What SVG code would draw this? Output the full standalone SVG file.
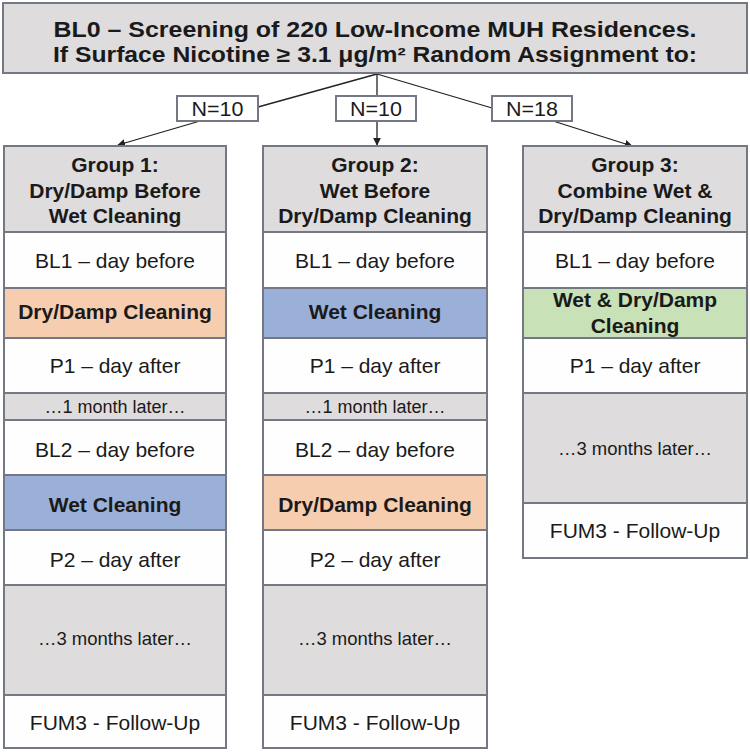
<svg xmlns="http://www.w3.org/2000/svg" width="750" height="752" viewBox="0 0 750 752">
<style>
.c{stroke:#737884;stroke-width:2}
.g{fill:#dedcdd}
.w{fill:#fefefe}
.o{fill:#f7cdb0}
.b{fill:#9bb0d9}
.gr{fill:#c9e1b6}
text{font-family:"Liberation Sans",Arial,sans-serif;fill:#1a1a1a;text-anchor:middle}
.h{font-weight:bold;font-size:21px}
.t{font-size:21px}
.s{font-size:18px}
.m{font-size:18.5px}
.ti{font-weight:bold;font-size:21.5px}
.n{font-size:20px}
.ln{stroke:#222;stroke-width:1.3;fill:none}
</style>
<defs>
<marker id="ah" viewBox="0 0 10 10" refX="9" refY="5" markerWidth="8" markerHeight="8" markerUnits="userSpaceOnUse" orient="auto">
<path d="M0,0 L10,5 L0,10 z" fill="#222"/>
</marker>
</defs>
<rect width="750" height="752" fill="#ffffff"/>
<g id="connectors">
<line class="ln" x1="377" y1="74" x2="258" y2="107"/>
<line class="ln" x1="377" y1="74" x2="377" y2="96"/>
<line class="ln" x1="377" y1="74" x2="492" y2="108"/>
<line class="ln" x1="200" y1="121" x2="118" y2="145" marker-end="url(#ah)"/>
<line class="ln" x1="377" y1="121" x2="377" y2="145" marker-end="url(#ah)"/>
<line class="ln" x1="553" y1="121" x2="632" y2="146" marker-end="url(#ah)"/>
</g>
<g id="title">
<rect class="c g" x="3" y="3" width="744" height="70"/>
<text class="ti" x="375" y="37" textLength="643" lengthAdjust="spacingAndGlyphs">BL0 – Screening of 220 Low-Income MUH Residences.</text>
<text class="ti" x="375" y="62" textLength="644" lengthAdjust="spacingAndGlyphs">If Surface Nicotine ≥ 3.1 μg/m² Random Assignment to:</text>
</g>
<g id="n1">
<rect x="177" y="96" width="81" height="25" fill="#fff" stroke="#737884" stroke-width="2"/>
<text class="n" x="217.5" y="116" textLength="52" lengthAdjust="spacingAndGlyphs">N=10</text>
</g>
<g id="n2">
<rect x="336" y="96" width="80" height="25" fill="#fff" stroke="#737884" stroke-width="2"/>
<text class="n" x="376" y="116" textLength="52" lengthAdjust="spacingAndGlyphs">N=10</text>
</g>
<g id="n3">
<rect x="492" y="96" width="80" height="25" fill="#fff" stroke="#737884" stroke-width="2"/>
<text class="n" x="532" y="116" textLength="52" lengthAdjust="spacingAndGlyphs">N=18</text>
</g>
<g id="group1">
<rect class="c g" x="4" y="146" width="222" height="86"/>
<text class="h" x="115" y="172">Group 1:</text>
<text class="h" x="115" y="198">Dry/Damp Before</text>
<text class="h" x="115" y="223">Wet Cleaning</text>
<rect class="c w" x="4" y="232" width="222" height="56"/>
<text class="t" x="115" y="268">BL1 – day before</text>
<rect class="c o" x="4" y="288" width="222" height="50"/>
<text class="h" x="115" y="319">Dry/Damp Cleaning</text>
<rect class="c w" x="4" y="338" width="222" height="55"/>
<text class="t" x="115" y="373">P1 – day after</text>
<rect class="c g" x="4" y="393" width="222" height="27"/>
<text class="s" x="115" y="413">…1 month later…</text>
<rect class="c w" x="4" y="420" width="222" height="55"/>
<text class="t" x="115" y="457">BL2 – day before</text>
<rect class="c b" x="4" y="475" width="222" height="55"/>
<text class="h" x="115" y="512">Wet Cleaning</text>
<rect class="c w" x="4" y="530" width="222" height="55"/>
<text class="t" x="115" y="567">P2 – day after</text>
<rect class="c g" x="4" y="585" width="222" height="110"/>
<text class="m" x="115" y="645">…3 months later…</text>
<rect class="c w" x="4" y="695" width="222" height="53"/>
<text class="t" x="115" y="730">FUM3 - Follow-Up</text>
</g>
<g id="group2">
<rect class="c g" x="263" y="146" width="224" height="86"/>
<text class="h" x="375" y="172">Group 2:</text>
<text class="h" x="375" y="198">Wet Before</text>
<text class="h" x="375" y="223">Dry/Damp Cleaning</text>
<rect class="c w" x="263" y="232" width="224" height="56"/>
<text class="t" x="375" y="268">BL1 – day before</text>
<rect class="c b" x="263" y="288" width="224" height="50"/>
<text class="h" x="375" y="319">Wet Cleaning</text>
<rect class="c w" x="263" y="338" width="224" height="55"/>
<text class="t" x="375" y="373">P1 – day after</text>
<rect class="c g" x="263" y="393" width="224" height="27"/>
<text class="s" x="375" y="413">…1 month later…</text>
<rect class="c w" x="263" y="420" width="224" height="55"/>
<text class="t" x="375" y="457">BL2 – day before</text>
<rect class="c o" x="263" y="475" width="224" height="55"/>
<text class="h" x="375" y="512">Dry/Damp Cleaning</text>
<rect class="c w" x="263" y="530" width="224" height="55"/>
<text class="t" x="375" y="567">P2 – day after</text>
<rect class="c g" x="263" y="585" width="224" height="110"/>
<text class="m" x="375" y="645">…3 months later…</text>
<rect class="c w" x="263" y="695" width="224" height="53"/>
<text class="t" x="375" y="730">FUM3 - Follow-Up</text>
</g>
<g id="group3">
<rect class="c g" x="523" y="146" width="224" height="86"/>
<text class="h" x="635" y="172">Group 3:</text>
<text class="h" x="635" y="198">Combine Wet &amp;</text>
<text class="h" x="635" y="223">Dry/Damp Cleaning</text>
<rect class="c w" x="523" y="232" width="224" height="56"/>
<text class="t" x="635" y="268">BL1 – day before</text>
<rect class="c gr" x="523" y="288" width="224" height="50"/>
<text class="h" x="635" y="307">Wet &amp; Dry/Damp</text>
<text class="h" x="635" y="333">Cleaning</text>
<rect class="c w" x="523" y="338" width="224" height="55"/>
<text class="t" x="635" y="373">P1 – day after</text>
<rect class="c g" x="523" y="393" width="224" height="110"/>
<text class="m" x="635" y="455">…3 months later…</text>
<rect class="c w" x="523" y="503" width="224" height="55"/>
<text class="t" x="635" y="538">FUM3 - Follow-Up</text>
</g>
</svg>
